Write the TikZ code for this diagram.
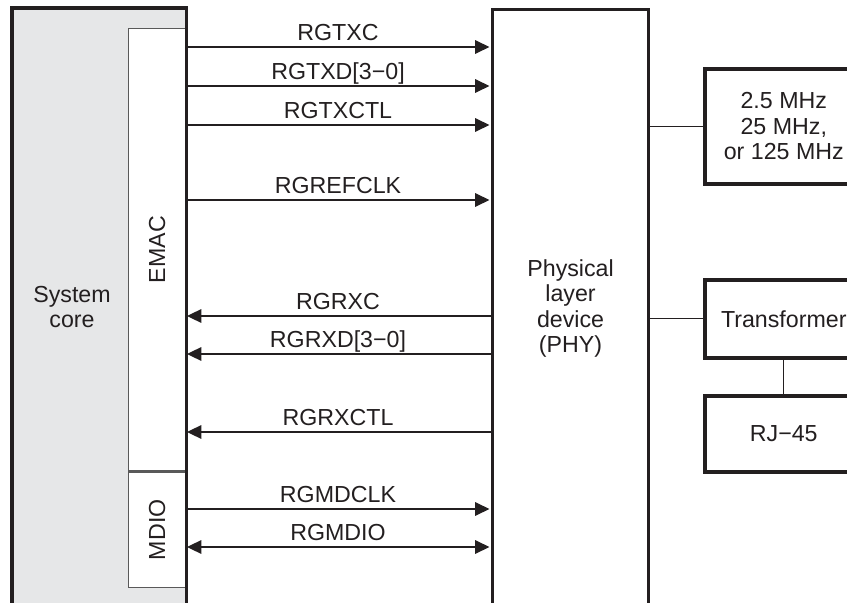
\documentclass[tikz,border=0pt]{standalone}
\usepackage{fontspec}
\setmainfont{Liberation Sans}
\usetikzlibrary{arrows.meta}

\definecolor{coregray}{HTML}{E6E7E8}
\definecolor{ink}{HTML}{231F20}

\begin{document}
\begin{tikzpicture}[x=0.025cm,y=-0.025cm,>={Triangle[length=0.36cm,width=0.34cm]},line width=1pt,
  every node/.style={font=\fontsize{16.5}{18.1}\selectfont,text=ink},
  box/.style={rectangle,draw=ink,anchor=north west,inner sep=0pt,align=center},
  heavy box/.style={box,line width=2.5pt,fill=white},
  thin box/.style={box,line width=1pt,draw=black!65,fill=white},
  sig/.style={anchor=base,yshift=4.3pt,inner sep=0pt},
  tx/.style={->,draw=ink,shorten >=1.1pt},
  rx/.style={<-,draw=ink,shorten <=1.4pt},
  bi/.style={<->,draw=ink,shorten <=1.4pt,shorten >=1.1pt},
  wire/.style={draw=ink,line width=1pt}]
    \useasboundingbox (0,0) rectangle (847,603);
    \clip (0,0) rectangle (847,603);

    % system core with the MAC side
    \node[box,fill=coregray,draw=none,minimum width=4.325cm,minimum height=15.1cm] (core) at (12,8) {};
    \node (coretxt) [align=center] at (72,307) {System\\core};
    \node[thin box,minimum width=1.425cm,minimum height=11.05cm] (emac) at (128,28) {\rotatebox{90}{EMAC}};
    \node[thin box,minimum width=1.425cm,minimum height=2.875cm] (mdio) at (emac.south west) {\rotatebox{90}{MDIO}};
    \draw[line width=2.6pt,draw=ink] (core.south west) -- (core.north west) -- (core.north east) -- (core.south east);

    % PHY and the parts behind it
    \node[heavy box,line width=2.2pt,minimum width=3.9cm,minimum height=14.95cm] (phy) at (491,8) {Physical\\layer\\device\\(PHY)};
    \node[heavy box,minimum width=3.95cm,minimum height=2.875cm] (clk) at (703,67) {2.5 MHz\\25 MHz,\\or 125 MHz};
    \node[heavy box,minimum width=3.95cm,minimum height=1.95cm] (xfmr) at (703,278) {Transformer};
    \node[heavy box,minimum width=3.95cm,minimum height=1.9cm] (rj) at (703,394) {RJ−45};

    \path[wire]
        (phy.east |- clk.west) edge (clk.west)
        (phy.east |- xfmr.west) edge (xfmr.west)
        (xfmr.south) edge (rj.north)
        ;

    % RGMII signals
    \coordinate (txc) at (185,47);
    \coordinate (txd) at (185,86);
    \coordinate (txctl) at (185,125);
    \coordinate (refclk) at (185,200);
    \coordinate (rxc) at (185,316);
    \coordinate (rxd) at (185,354);
    \coordinate (rxctl) at (185,432);
    \coordinate (mdclk) at (185,509);
    \coordinate (mdio) at (185,547);

    \draw[tx] (txc) -- node[sig] {RGTXC} (txc -| phy.west);
    \draw[tx] (txd) -- node[sig] {RGTXD[3−0]} (txd -| phy.west);
    \draw[tx] (txctl) -- node[sig] {RGTXCTL} (txctl -| phy.west);
    \draw[tx] (refclk) -- node[sig] {RGREFCLK} (refclk -| phy.west);
    \draw[rx] (rxc) -- node[sig] {RGRXC} (rxc -| phy.west);
    \draw[rx] (rxd) -- node[sig] {RGRXD[3−0]} (rxd -| phy.west);
    \draw[rx] (rxctl) -- node[sig] {RGRXCTL} (rxctl -| phy.west);
    \draw[tx] (mdclk) -- node[sig] {RGMDCLK} (mdclk -| phy.west);
    \draw[bi] (mdio) -- node[sig] {RGMDIO} (mdio -| phy.west);
\end{tikzpicture}
\end{document}
